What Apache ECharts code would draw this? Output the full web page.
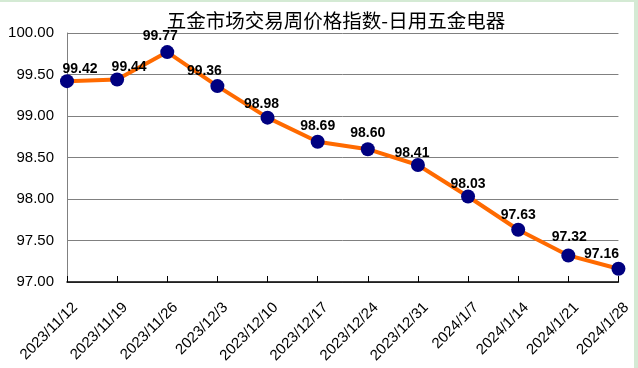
<!DOCTYPE html>
<html>
<head>
<meta charset="utf-8">
<script src="https://cdn.jsdelivr.net/npm/echarts@6/dist/echarts.min.js"></script>
<style>
  html, body { margin: 0; padding: 0; background: #d4ead4; width: 638px; height: 368px; overflow: hidden; }
  #chart { position: absolute; left: 0; top: 2px; width: 634px; height: 366px; background: #ffffff; }
</style>
</head>
<body>
<div id="chart"></div>
<script>
const titleText = '五金市场交易周价格指数-日用五金电器';
const categories = ['2023/11/12','2023/11/19','2023/11/26','2023/12/3','2023/12/10','2023/12/17','2023/12/24','2023/12/31','2024/1/7','2024/1/14','2024/1/21','2024/1/28'];
const values = [99.42, 99.44, 99.77, 99.36, 98.98, 98.69, 98.60, 98.41, 98.03, 97.63, 97.32, 97.16];
const yMin = 97, yMax = 100, yStep = 0.5;

// label nudges (style only, per point)
const labelShiftX = [13, 12, -7, -13, -6, 0, 0, -6, 0, 0, 1, -17];
const labelShiftY = [4, 4, 0, 1, 2, 0, 0, 4, 4, 1, -2, 1];

const chart = echarts.init(document.getElementById('chart'), null, { renderer: 'canvas' });
chart.setOption({
  backgroundColor: '#ffffff',
  animation: false,
  title: {
    text: titleText,
    left: 331, top: 4, textAlign: 'center',
    textStyle: { fontFamily: 'Noto Sans CJK SC', fontSize: 19.5, fontWeight: 'normal', color: '#000000' }
  },
  grid: { left: 67, right: 6, top: 31, bottom: 86, containLabel: false },
  xAxis: {
    type: 'category',
    data: categories,
    boundaryGap: false,
    axisLine: { lineStyle: { color: '#000000', width: 1.5 } },
    axisTick: { show: true, inside: true, length: 6, lineStyle: { color: '#000000', width: 1 } },
    axisLabel: { rotate: 45, fontFamily: 'Liberation Sans', fontSize: 15, color: '#000000', margin: 15,
      interval: 0, verticalAlign: 'top', padding: [4, 0, 0, 0] },
    splitLine: { show: false }
  },
  yAxis: {
    type: 'value',
    min: yMin, max: yMax, interval: yStep,
    axisLine: { show: true, lineStyle: { color: '#808080', width: 1 } },
    axisTick: { show: false },
    axisLabel: { fontFamily: 'Liberation Sans', fontSize: 15, color: '#000000', margin: 13,
      formatter: v => v.toFixed(2) },
    splitLine: { show: true, lineStyle: { color: '#808080', width: 1 } }
  },
  series: [{
    type: 'line',
    data: values.map((v, i) => ({
      value: v,
      label: { offset: [labelShiftX[i], labelShiftY[i]] }
    })),
    lineStyle: { color: '#ff6a00', width: 4 },
    itemStyle: { color: '#000080' },
    symbol: 'circle',
    symbolSize: 14,
    label: {
      show: true, position: 'top', distance: 2,
      fontFamily: 'Liberation Sans', fontSize: 14, fontWeight: 'bold', color: '#000000',
      formatter: p => p.value.toFixed(2)
    }
  }]
});
</script>
</body>
</html>
